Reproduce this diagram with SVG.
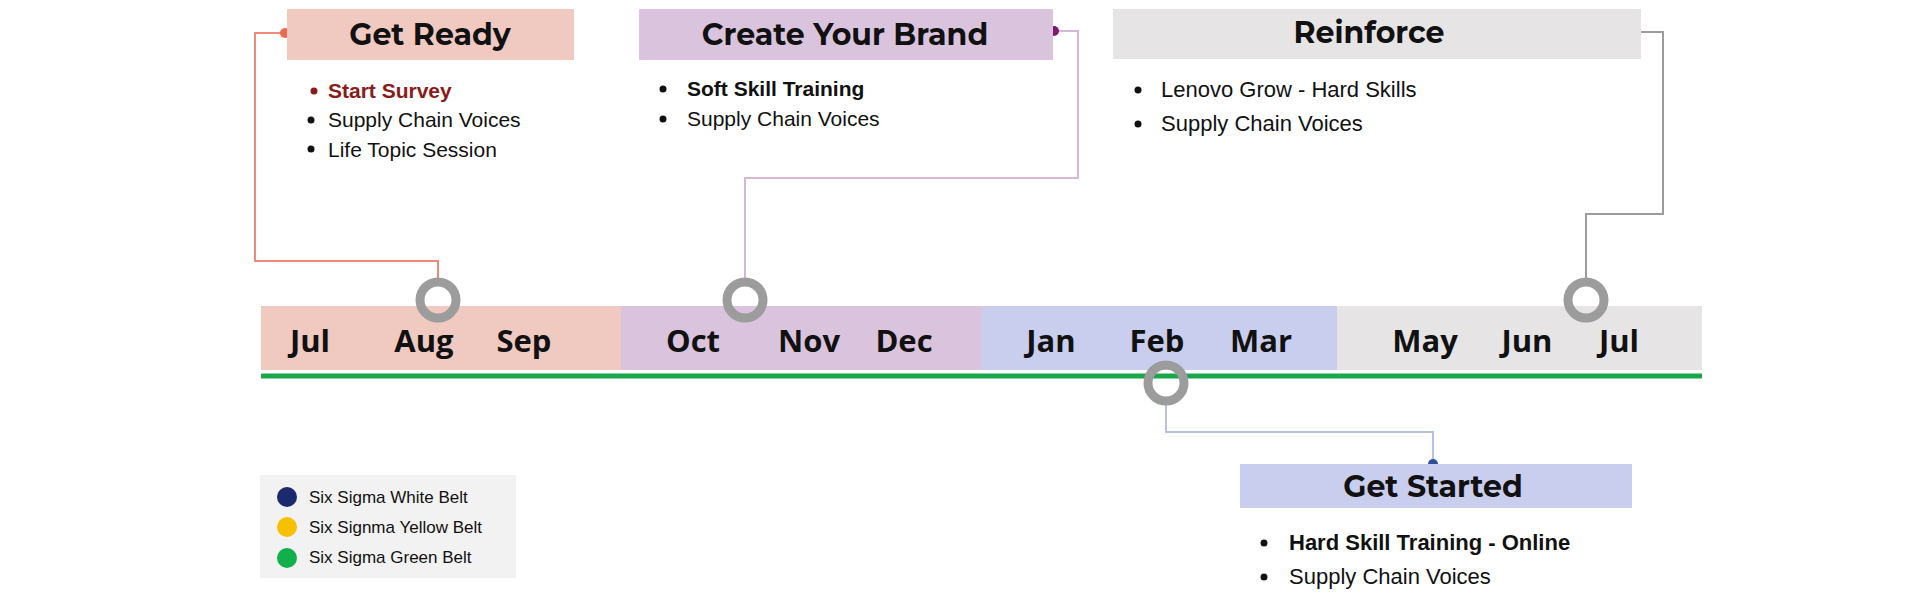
<svg xmlns="http://www.w3.org/2000/svg" width="1920" height="600" viewBox="0 0 1920 600">
<style>
.t{font-family:"Montserrat","Open Sans","Liberation Sans",sans-serif;font-weight:700;font-size:30px;text-anchor:middle;fill:#111}
.m{font-family:"Open Sans","Liberation Sans",sans-serif;font-weight:700;font-size:31px;text-anchor:middle;fill:#111}
.b{font-family:"Liberation Sans",Arial,sans-serif;font-size:21px;fill:#111}
.l{font-family:"Liberation Sans",Arial,sans-serif;font-size:17px;fill:#111}
.ring{fill:none;stroke:#9c9c9c;stroke-width:9}
.c{fill:none;stroke-width:2}
</style>
<rect width="1920" height="600" fill="#fff"/>
<g id="timeline">
<rect x="261" y="306" width="360" height="64" fill="#f0c9c0"/>
<rect x="621" y="306" width="361" height="64" fill="#d9c3dd"/>
<rect x="982" y="306" width="355" height="64" fill="#c9cdee"/>
<rect x="1337" y="306" width="365" height="64" fill="#e6e4e4"/>
<line x1="261" y1="376" x2="1702" y2="376" stroke="#1aa64a" stroke-width="5"/>
<text class="m" x="310" y="352">Jul</text><text class="m" x="424" y="352">Aug</text><text class="m" x="524" y="352">Sep</text>
<text class="m" x="693" y="352">Oct</text><text class="m" x="809" y="352">Nov</text><text class="m" x="904" y="352">Dec</text>
<text class="m" x="1051" y="352">Jan</text><text class="m" x="1157" y="352">Feb</text><text class="m" x="1261" y="352">Mar</text>
<text class="m" x="1425" y="352">May</text><text class="m" x="1527" y="352">Jun</text><text class="m" x="1619" y="352">Jul</text>
</g>
<g id="connectors">
<polyline class="c" stroke="#ee8a78" points="285,33 255,33 255,261 438,261 438,279"/>
<polyline class="c" stroke="#d4b8d6" points="1054,31 1078,31 1078,178 745,178 745,279"/>
<polyline class="c" stroke="#9c9c9c" points="1633,32 1663,32 1663,214 1586,214 1586,279"/>
<polyline class="c" stroke="#b8c0e8" points="1166,404 1166,432 1433,432 1433,464"/>
<circle cx="285" cy="33" r="5" fill="#ee6a50"/>
<circle cx="1054" cy="31" r="5" fill="#7b1a6e"/>
<circle cx="1633" cy="32" r="5" fill="#9c9c9c"/>
<circle cx="1433" cy="464" r="5" fill="#2e4f9a"/>
</g>
<g id="rings">
<circle class="ring" cx="438" cy="300" r="18" fill="#f0c9c0"/>
<circle class="ring" cx="745" cy="300" r="18"/>
<circle class="ring" cx="1166" cy="383" r="18"/>
<circle class="ring" cx="1586" cy="300" r="18"/>
</g>
<g id="get-ready">
<rect x="287" y="9" width="287" height="51" fill="#f0c9c0"/>
<text class="t" x="430" y="45">Get Ready</text>
<circle cx="314" cy="91" r="3.5" fill="#8b1a1a"/><text class="b" x="328" y="98" font-weight="700" fill="#8b1a1a" style="fill:#8b1a1a">Start Survey</text>
<circle cx="311" cy="120" r="3.5" fill="#111"/><text class="b" x="328" y="127">Supply Chain Voices</text>
<circle cx="311" cy="149" r="3.5" fill="#111"/><text class="b" x="328" y="157">Life Topic Session</text>
</g>
<g id="create-brand">
<rect x="639" y="9" width="414" height="51" fill="#d9c3dd"/>
<text class="t" x="845" y="45">Create Your Brand</text>
<circle cx="663" cy="89" r="3.5" fill="#111"/><text class="b" x="687" y="96" font-weight="700">Soft Skill Training</text>
<circle cx="663" cy="119" r="3.5" fill="#111"/><text class="b" x="687" y="126">Supply Chain Voices</text>
</g>
<g id="reinforce">
<rect x="1113" y="9" width="528" height="50" fill="#e6e4e4"/>
<text class="t" x="1369" y="43">Reinforce</text>
<circle cx="1138" cy="90" r="3.5" fill="#111"/><text class="b" x="1161" y="97" style="font-size:22px">Lenovo Grow - Hard Skills</text>
<circle cx="1138" cy="124" r="3.5" fill="#111"/><text class="b" x="1161" y="131" style="font-size:22px">Supply Chain Voices</text>
</g>
<g id="get-started">
<rect x="1240" y="464" width="392" height="44" fill="#c9cdee"/>
<text class="t" x="1433" y="497">Get Started</text>
<circle cx="1264" cy="543" r="3.5" fill="#111"/><text class="b" x="1289" y="550" font-weight="700" style="font-size:22px">Hard Skill Training - Online</text>
<circle cx="1264" cy="577" r="3.5" fill="#111"/><text class="b" x="1289" y="584" style="font-size:22px">Supply Chain Voices</text>
</g>
<g id="legend">
<rect x="260" y="475" width="256" height="103" fill="#f2f2f2"/>
<circle cx="287" cy="497" r="10" fill="#1a2a6c"/><text class="l" x="309" y="503">Six Sigma White Belt</text>
<circle cx="287" cy="527" r="10" fill="#f7c000"/><text class="l" x="309" y="533">Six Signma Yellow Belt</text>
<circle cx="287" cy="558" r="10" fill="#12b04c"/><text class="l" x="309" y="563">Six Sigma Green Belt</text>
</g>
</svg>
